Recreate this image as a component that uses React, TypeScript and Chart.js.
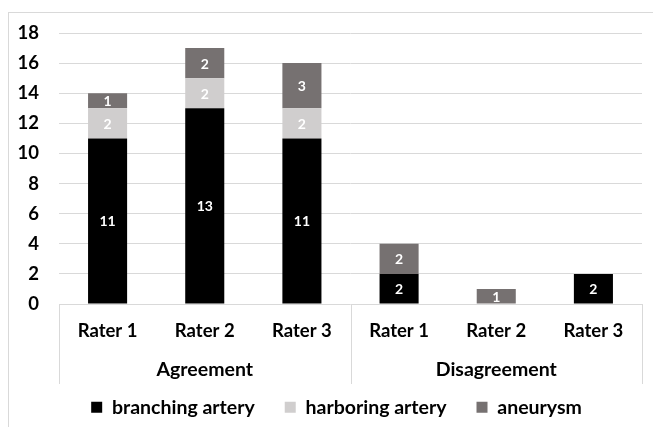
import React, { useEffect, useRef } from "react";
import { Chart, registerables } from "chart.js";

Chart.register(...registerables);

const categories = ["Rater 1", "Rater 2", "Rater 3", "Rater 1", "Rater 2", "Rater 3"];
const groups = ["Agreement", "Disagreement"];
const groupSizes = [3, 3];
const branchingArtery = [11, 13, 11, 2, 0, 2];
const harboringArtery = [2, 2, 2, 0, 0, 0];
const aneurysm = [1, 2, 3, 2, 1, 0];
const yTicksMax = 18;
const yTickStep = 2;

const FONT = "Lato";
const GRID = "#D9D9D9";
const FS = 18.5;
const FS_BIG = 19.5;

const valueLabels = {
  id: "valueLabels",
  afterDatasetsDraw(chart: any) {
    const ctx = chart.ctx;
    ctx.save();
    ctx.fillStyle = "#FFFFFF";
    ctx.font = `bold 14px ${FONT}`;
    ctx.textAlign = "center";
    ctx.textBaseline = "middle";
    chart.data.datasets.forEach((ds: any, di: number) => {
      const meta = chart.getDatasetMeta(di);
      meta.data.forEach((el: any, i: number) => {
        const v = ds.data[i];
        if (!v) return;
        ctx.fillText(String(v), el.x, (el.y + el.base) / 2 + 1);
      });
    });
    ctx.restore();
  },
};

const groupAxis = {
  id: "groupAxis",
  afterLayout(chart: any) {
    if (chart.legend) {
      chart.legend.left += 22;
    }
  },
  afterDraw(chart: any) {
    const ctx = chart.ctx;
    const x = chart.scales.x;
    const area = chart.chartArea;
    const bottom = area.bottom + 80;
    ctx.save();
    ctx.strokeStyle = GRID;
    ctx.lineWidth = 1;
    let idx = 0;
    const bounds: number[] = [area.left];
    groups.forEach((g, gi) => {
      const first = idx;
      const last = idx + groupSizes[gi] - 1;
      idx += groupSizes[gi];
      const b = gi === groups.length - 1 ? area.right : (x.getPixelForValue(last) + x.getPixelForValue(last + 1)) / 2;
      bounds.push(b);
      const cx = (x.getPixelForValue(first) + x.getPixelForValue(last)) / 2;
      ctx.fillStyle = "#000000";
      ctx.font = `bold ${FS_BIG}px ${FONT}`;
      ctx.textAlign = "center";
      ctx.textBaseline = "middle";
      ctx.fillText(g, cx, area.bottom + 66);
    });
    bounds.forEach((b) => {
      const px = Math.round(b) + 0.5;
      ctx.beginPath();
      ctx.moveTo(px, area.bottom);
      ctx.lineTo(px, bottom);
      ctx.stroke();
    });
    ctx.restore();
  },
};

export default function App() {
  const ref = useRef<HTMLCanvasElement>(null);
  useEffect(() => {
    if (!ref.current) return;
    const chart = new Chart(ref.current, {
      type: "bar",
      data: {
        labels: categories,
        datasets: [
          { label: "branching artery", data: branchingArtery, backgroundColor: "#000000", borderWidth: 0 },
          { label: "harboring artery", data: harboringArtery, backgroundColor: "#D0CECE", borderWidth: 0 },
          { label: "aneurysm", data: aneurysm, backgroundColor: "#767171", borderWidth: 0 },
        ],
      },
      options: {
        animation: false,
        responsive: true,
        maintainAspectRatio: false,
        datasets: { bar: { categoryPercentage: 1, barPercentage: 0.402 } },
        layout: { padding: { top: 20, left: 0, right: 27, bottom: 16 } },
        plugins: {
          tooltip: { enabled: false },
          legend: {
            position: "bottom",
            labels: {
              boxWidth: 11,
              boxHeight: 11,
              padding: 30,
              color: "#000000",
              font: { family: FONT, size: FS_BIG, weight: "bold" },
            },
          },
        },
        scales: {
          x: {
            stacked: true,
            grid: { display: false, drawTicks: false },
            border: { display: false },
            ticks: { color: "#000000", padding: 16, font: { family: FONT, size: FS, weight: "bold" } },
            afterFit: (s: any) => { s.height = 63.5; s.paddingLeft = 0; s.paddingRight = 0; },
          },
          y: {
            stacked: true,
            min: 0,
            max: yTicksMax,
            grid: { color: GRID, drawTicks: false },
            border: { display: false },
            ticks: { stepSize: yTickStep, color: "#000000", padding: 20, font: { family: FONT, size: FS, weight: "bold" } },
            afterFit: (s: any) => { s.width = 50; s.paddingTop = 0; s.paddingBottom = 0; },
          },
        },
      },
      plugins: [valueLabels, groupAxis],
    });
    return () => chart.destroy();
  }, []);
  return (
    <div
      style={{
        position: "fixed",
        left: 8,
        top: 12,
        width: 660,
        height: 430,
        borderTop: `1px solid ${GRID}`,
        borderLeft: `1px solid ${GRID}`,
        background: "#FFFFFF",
      }}
    >
      <canvas ref={ref} />
    </div>
  );
}
